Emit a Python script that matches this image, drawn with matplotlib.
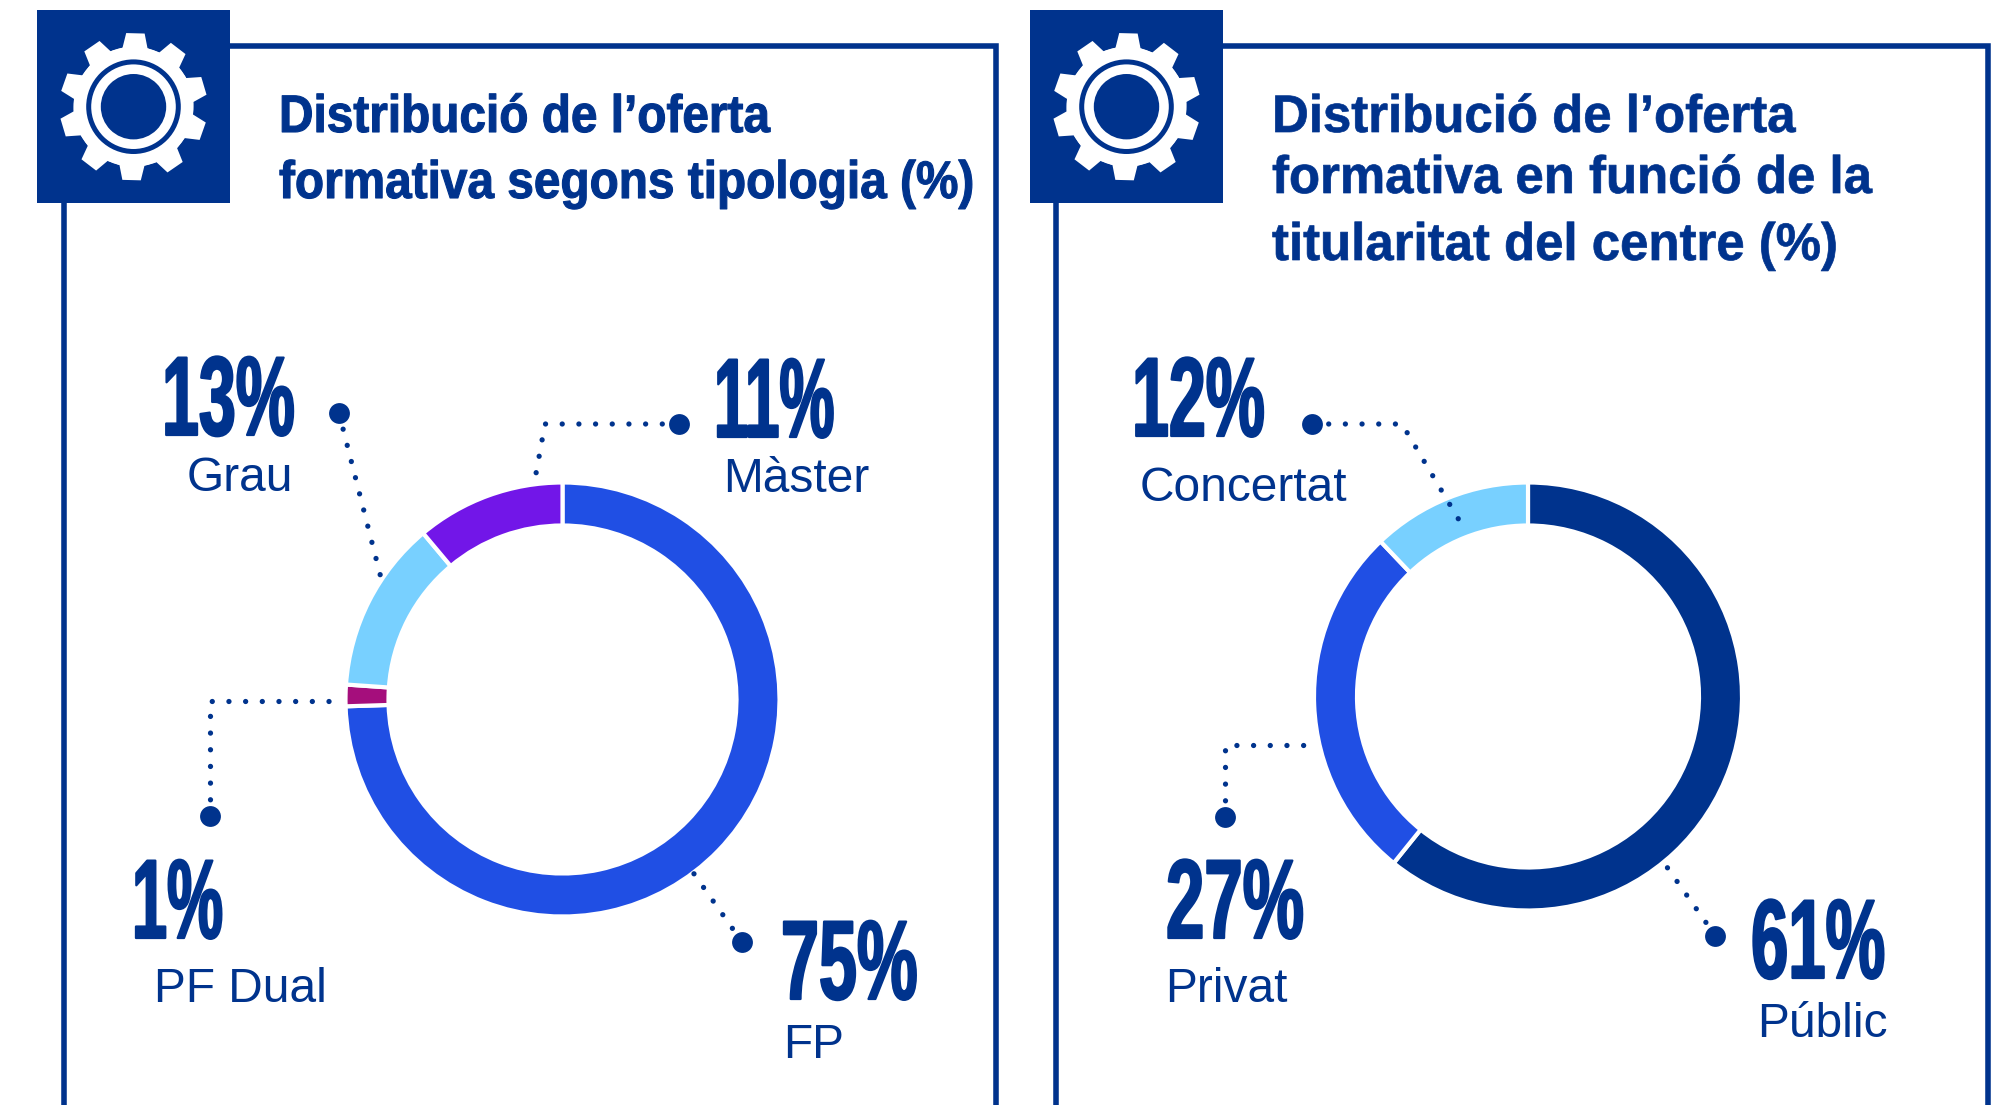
import math
import matplotlib
matplotlib.use('Agg')
import matplotlib.pyplot as plt
from matplotlib.patches import Rectangle, Circle, Polygon
from matplotlib.patheffects import AbstractPathEffect
from matplotlib.transforms import Affine2D

NAVY = '#00338d'
W, H = 2008, 1105

# ---- data ----
left_labels = ['FP', 'PF Dual', 'Grau', 'Màster']
left_pct = ['75%', '1%', '13%', '11%']
left_shares = [74.5, 1.6, 12.8, 11.1]  # measured off the ring
left_colors = ['#204fe4', '#a50e7c', '#78d0ff', '#7216e8']
right_labels = ['Públic', 'Privat', 'Concertat']
right_pct = ['61%', '27%', '12%']
right_shares = [60.8, 27.1, 12.1]
right_colors = ['#00338d', '#204fe4', '#78d0ff']

left_title = ['Distribució de l’oferta', 'formativa segons tipologia (%)']
right_title = ['Distribució de l’oferta', 'formativa en funció de la', 'titularitat del centre (%)']

fig = plt.figure(figsize=(W / 100, H / 100), dpi=100)
ax = fig.add_axes([0, 0, 1, 1])
ax.set_xlim(0, W)
ax.set_ylim(H, 0)
ax.axis('off')


class Squeeze(AbstractPathEffect):
    # no condensed font installed, so narrow the glyphs and thicken them a bit
    def __init__(self, sx, stroke=0.0):
        super().__init__()
        self.sx = sx
        self.stroke = stroke

    def draw_path(self, renderer, gc, tpath, affine, rgbFace=None):
        gc0 = renderer.new_gc()
        gc0.copy_properties(gc)
        if self.stroke:
            gc0.set_foreground(NAVY)
            gc0.set_linewidth(self.stroke)
        renderer.draw_path(gc0, tpath, Affine2D().scale(self.sx, 1) + affine, rgbFace)
        gc0.restore()


def gear(cx, cy):
    # white cog with 10 teeth, then the ring and hub on top
    pts = []
    n = 10
    for i in range(n):
        a = 2 * math.pi * i / n - math.pi / 2 + math.radians(1.5)
        for da, r in [(-0.21, 60), (-0.125, 74), (0.125, 74), (0.21, 60)]:
            pts.append((cx + r * math.cos(a + da), cy + r * math.sin(a + da)))
    ax.add_patch(Polygon(pts, closed=True, fc='white', ec='none', zorder=4))
    ax.add_patch(Circle((cx, cy), 60, fc='white', ec='none', zorder=4))
    ax.add_patch(Circle((cx, cy), 44.8, fc='none', ec=NAVY, lw=3.6, zorder=5))
    ax.add_patch(Circle((cx, cy), 32.7, fc=NAVY, ec='none', zorder=5))


def panel(x0, x1, sq_x):
    ax.plot([x0, x0, x1, x1], [H + 5, 46, 46, H + 5], color=NAVY, lw=4, solid_joinstyle='miter', zorder=1)
    ax.add_patch(Rectangle((sq_x, 10), 193, 193, fc=NAVY, ec='none', zorder=3))
    gear(sq_x + 96.5, 106.7)


def donut(values, colors, center, radius, width):
    # the y axis is inverted, so this runs clockwise from 12 o'clock on screen
    ax.pie(values, colors=colors, startangle=-90, counterclock=True, center=center, radius=radius + 2,
           wedgeprops=dict(width=width + 4, edgecolor='white', linewidth=3), frame=False)
    ax.set_xlim(0, W)
    ax.set_ylim(H, 0)
    ax.set_aspect('auto')


def leader(xs, ys):
    ax.plot(xs, ys, color=NAVY, lw=3.8, linestyle=(0, (0.01, 3.15)), dash_capstyle='round', zorder=2)
    ax.plot(xs[0], ys[0], 'o', color=NAVY, ms=15, zorder=2, mec='none')


def big(x, y, s, sx):
    ax.text(x, y, s, color=NAVY, fontsize=81, fontweight='bold', family='Liberation Sans',
            ha='left', va='baseline', path_effects=[Squeeze(sx, 1.6)])


def small(x, y, s):
    ax.text(x, y, s, color=NAVY, fontsize=34.5, family='Liberation Sans', ha='left', va='baseline')


def title(x, ys, lines, sx, stroke):
    for y, line in zip(ys, lines):
        ax.text(x, y, line, color=NAVY, fontsize=38, fontweight='bold', family='Liberation Sans',
                ha='left', va='baseline', path_effects=[Squeeze(sx, stroke)])


panel(64.5, 996, 37)
panel(1056.5, 1988, 1030)

donut(left_shares, left_colors, (562.5, 699.5), 215, 39)
donut(right_shares, right_colors, (1528, 696.5), 212, 39)

title(279, [132, 198], left_title, 0.905, 0.8)
title(1272, [132, 193, 260], right_title, 0.965, 0.5)

leader([339, 381], [413, 578])
leader([679, 545, 535], [424, 424, 479])
leader([210, 210, 335], [816, 701, 701])
leader([742, 692], [942, 871])
leader([1312, 1402, 1459], [424, 424, 520])
leader([1225, 1225, 1310], [817, 745, 745])
leader([1715.5, 1665.5], [936, 865])

big(162, 435, left_pct[2], 0.59)
small(186.5, 491, left_labels[2])
big(714, 437, left_pct[3], 0.55)
small(723.5, 492, left_labels[3])
big(132, 938, left_pct[1], 0.56)
small(154, 1002, left_labels[1])
big(781, 999, left_pct[0], 0.607)
small(783, 1058, left_labels[0])
big(1132, 436, right_pct[2], 0.59)
small(1140, 501, right_labels[2])
big(1166, 938, right_pct[1], 0.613)
small(1165, 1002, right_labels[1])
big(1751, 978, right_pct[0], 0.596)
small(1757, 1037, right_labels[0])

fig.savefig('out.png', dpi=100)
